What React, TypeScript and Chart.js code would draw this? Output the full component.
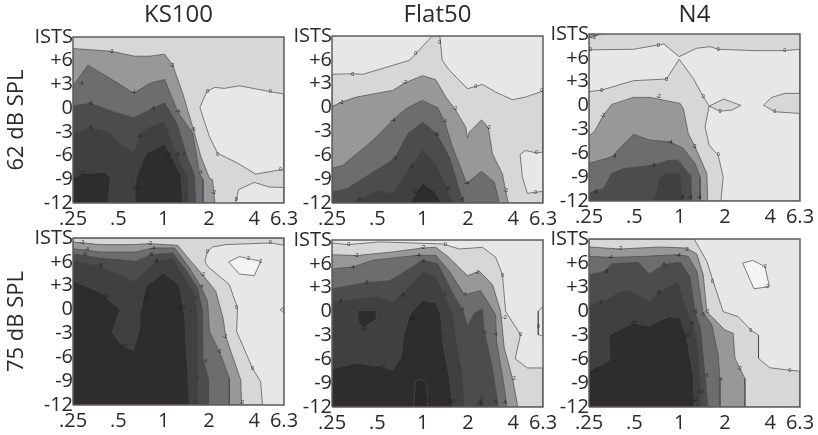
import React, { useEffect, useRef } from "react";
import { Chart, registerables } from "chart.js";

Chart.register(...registerables);

type Pt = [number, number];
type Lab = [number, number, string];

// x = octaves above .25 kHz, y = dB re ISTS level
const xTickValues = [0, 1, 2, 3, 4, 4.655];
const xTickLabels = [".25", ".5", "1", "2", "4", "6.3"];
const X_MAX = 4.655;
const Y_MIN = -12;
const Y_MAX = 9;

const SHADES: Record<string, string> = {
  "2": "#f3f4f5",
  "0": "#e6e7e8",
  "-0": "#d6d7d9",
  "-2": "#97989a",
  "-4": "#6c6d6f",
  "-6": "#4c4c4e",
  "-8": "#403f41",
  "-10": "#2e2c2d",
  "-12": "#2a2829",
};

const fullPlot: Pt[] = [[0, -12], [0, 9], [4.655, 9], [4.655, -12]];

// ---- KS100, 62 dB
const ks62Z1: Pt[] = [[2.95, 2.08], [3.12, 2.62], [3.34, 2.5], [3.67, 2.83], [4.36, 2.08], [4.655, 1.78], [4.655, -7.8], [4.58, -7.8], [4.03, -8.34], [3.63, -6.96], [3.19, -5.7], [3.01, -3.6], [2.9, -1.71], [2.8, 0.1]];
const ks62Z2: Pt[] = [[3.59, -12], [3.65, -10.32], [4, -9.39], [4.33, -9.98], [4.655, -10.03], [4.655, -12]];
const ks62M2: Pt[] = [[0, 7.54], [0.84, 7.2], [1.36, 6.57], [1.69, 6.57], [2.02, 6.82], [2.2, 5.44], [2.42, 1.87], [2.66, -2.76], [2.82, -6.12], [3.01, -8.85], [3.08, -9.06], [3.13, -12], [0, -12]];
const ks62M4: Pt[] = [[0, 2.79], [0.33, 5.44], [0.88, 3.55], [1.34, 1.87], [1.69, 3.13], [2.02, 3.63], [2.31, -0.45], [2.64, -3.18], [2.79, -8.22], [2.87, -9.06], [2.87, -12], [0, -12]];
const ks62M6: Pt[] = [[0, 0.31], [0.4, 0.6], [0.88, -0.45], [1.34, -1.2], [1.76, -0.03], [2.02, 0.69], [2.31, -2.13], [2.49, -5.7], [2.68, -8.43], [2.71, -12], [0, -12]];
const ks62M8: Pt[] = [[0, -3.18], [0.38, -2.42], [0.77, -2.97], [1.03, -4.44], [1.34, -5.49], [1.47, -3.6], [1.61, -2.55], [2.02, -1.71], [2.27, -5.7], [2.53, -8.64], [2.55, -12], [0, -12]];
const ks62M10a: Pt[] = [[0, -8.76], [0.22, -8.3], [0.7, -8.09], [0.83, -8.85], [0.77, -12], [0, -12]];
const ks62M10b: Pt[] = [[1.36, -12], [1.39, -8.85], [1.61, -5.7], [2.02, -4.52], [2.38, -8.43], [2.42, -12]];
const ks62Labels: Lab[] = [[0.84, 7.2, "-2"], [2.18, 5.44, "-2"], [0.18, 3.1, "-4"], [1.33, 2, "-4"], [2.31, -0.45, "-4"], [0.38, 0.6, "-6"], [1.76, 0, "-6"], [2.65, -2.7, "-6"], [0.38, -2.4, "-8"], [1.47, -3.6, "-8"], [2.44, -5.7, "-8"], [2.8, -8.2, "-4"], [0.2, -8.3, "-10"], [1.39, -10.2, "-10"], [2.08, -5.8, "-10"], [2.29, -5.8, "-8"], [3.1, -10.7, "-2"], [2.97, 2.1, "0"], [4.35, 2.1, "0"], [3.19, -5.8, "0"], [4.58, -7.8, "0"], [3.6, -11.5, "0"]];

// ---- Flat50, 62 dB
const fl62Z: Pt[] = [[0, 4.18], [0.46, 4.26], [0.68, 4.18], [1.71, 5.94], [1.85, 6.78], [2.21, 9], [2.38, 9], [2.43, 5.94], [2.59, 4.68], [2.99, 2.37], [3.17, 2.66], [3.32, 2.92], [3.61, 1.95], [3.98, 0.98], [4.27, 1.32], [4.655, 2.08], [4.655, -12], [0, -12]];
const fl62Isl: Pt[] = [[4.655, -5.61], [4.51, -5.7], [4.27, -5.4], [4.15, -5.9], [4.2, -8.76], [4.31, -10.78], [4.49, -10.66], [4.655, -10.53]];
const fl62M2: Pt[] = [[0, 0.14], [0.21, 0.69], [0.54, 1.32], [1.34, 2.16], [1.6, 3.08], [2, 4.01], [2.29, 3.5], [2.51, 1.32], [2.71, -0.15], [2.95, -2.46], [2.99, -3.8], [3.03, -3.09], [3.3, -1.54], [3.45, -2.55], [3.54, -5.82], [3.76, -8.34], [3.83, -10.45], [3.89, -12], [0, -12]];
const fl62M4: Pt[] = [[0, -7.63], [0.23, -7.3], [0.9, -4.14], [1.34, -1.62], [1.63, -0.15], [1.99, 0.9], [2.33, -0.03], [2.48, -1.71], [2.66, -4.98], [2.97, -9.52], [3.3, -8.01], [3.58, -9.39], [3.69, -12], [0, -12]];
const fl62M6: Pt[] = [[0, -10.57], [0.32, -10.24], [0.9, -8.13], [1.38, -6.45], [1.67, -3.3], [2, -1.83], [2.31, -3.3], [2.59, -6.24], [2.84, -10.87], [2.9, -12], [0, -12]];
const fl62M8: Pt[] = [[0.43, -12], [0.61, -11.5], [1.01, -10.36], [1.34, -10.78], [1.74, -7.29], [2, -5.28], [2.29, -7.08], [2.55, -10.24], [2.68, -12]];
const fl62M10: Pt[] = [[1.71, -12], [2, -9.48], [2.26, -10.53], [2.42, -12]];
const fl62Labels: Lab[] = [[0.46, 4.2, "0"], [1.85, 6.8, "0"], [2.38, 8.2, "0"], [3.17, 2.6, "0"], [4.63, 2.1, "0"], [4.51, -5.7, "0"], [4.49, -10.7, "0"], [0.2, 0.7, "-2"], [1.6, 3.1, "-2"], [2.71, -0.1, "-2"], [3.45, -2.5, "-2"], [3.83, -10.4, "-2"], [1.34, -1.6, "-4"], [2.48, -1.7, "-4"], [1.38, -6.4, "-6"], [0.6, -11.5, "-6"], [2.31, -3.4, "-6"], [1.74, -7.4, "-8"], [2.55, -10.2, "-8"], [2.97, -9.5, "-4"], [2.87, -11.5, "-6"], [1.85, -10.5, "-10"]];

// ---- N4, 62 dB
const n62Z: Pt[] = [[0, 7], [0.98, 7.08], [1.53, 7.62], [1.65, 7.75], [1.99, 6.15], [2.37, 7.2], [2.67, 7.41], [2.85, 7.08], [3.63, 6.91], [4.32, 6.91], [4.655, 7.08], [4.655, -12], [0, -12]];
const n62Low: Pt[] = [[0, 1.74], [0.28, 1.95], [0.98, 3.13], [1.71, 3.34], [1.99, 5.82], [2.3, 3.42], [2.52, 1.11], [2.65, -0.07], [2.56, -2.67], [2.65, -4.98], [2.85, -6.24], [2.96, -8.97], [2.91, -12], [0, -12]];
const n62IslA: Pt[] = [[2.65, -0.07], [2.97, 0.82], [3.35, 0.02], [3.15, -0.57], [2.89, -0.7]];
const n62IslB: Pt[] = [[4.655, 1.53], [4.32, 1.53], [4.03, 1.03], [3.85, 0.06], [4.1, -0.78], [4.655, -0.99]];
const n62Top: Pt[] = [[0, 9], [0.28, 9], [0, 8.5]];
const n62M2: Pt[] = [[0, -3.85], [0.13, -3.18], [0.32, -1.2], [0.5, 0.14], [0.98, 1.03], [1.35, 1.03], [2.01, 0.27], [2.08, -0.36], [2.19, -3.51], [2.34, -5.19], [2.6, -8.55], [2.62, -12], [0, -12]];
const n62M4: Pt[] = [[0, -7.29], [0.5, -6.45], [0.98, -3.6], [1.35, -4.35], [1.79, -4.56], [2.08, -5.4], [2.34, -7.29], [2.45, -8.97], [2.45, -12], [0, -12]];
const n62M6: Pt[] = [[0, -10.99], [0.32, -10.45], [0.5, -8.55], [0.76, -7.92], [1.42, -7.5], [1.75, -6.87], [1.97, -6.87], [2.23, -8.76], [2.25, -12], [0, -12]];
const n62M8: Pt[] = [[1.42, -12], [1.57, -8.97], [1.68, -8.55], [2.01, -8.55], [2.07, -12]];
const n62Labels: Lab[] = [[0.03, 7, "0"], [1.53, 7.6, "0"], [2.85, 7.1, "0"], [4.32, 6.9, "0"], [0.28, 1.9, "0"], [1.71, 3.3, "0"], [2.52, 1.1, "0"], [2.89, -0.7, "0"], [4.1, -0.8, "0"], [2.85, -6.2, "0"], [1.53, 1.1, "-2"], [0.3, -1.2, "-2"], [2.32, -5.2, "-2"], [0.55, -6.4, "-4"], [1.79, -4.6, "-4"], [0.14, -10.8, "-6"], [1.42, -7.5, "-6"], [2.05, -11.5, "-8"], [2.23, -11.6, "-6"], [2.43, -11.5, "-4"], [0.1, 8.6, "-2"]];

// ---- KS100, 75 dB
const ks75Z: Pt[] = [[0, 9], [4.655, 9], [4.655, 8.08], [4.36, 8.38], [3.37, 8.17], [3.08, 7.87], [2.97, 7.33], [2.91, 6.07], [2.97, 5.44], [3.23, 4.18], [3.45, 3.13], [3.63, 0.18], [3.61, -2.76], [3.96, -7.38], [4.14, -9.06], [4.18, -12], [0, -12]];
const ks75Isl: Pt[] = [[4.655, 0.39], [4.57, -0.03], [4.655, -0.45]];
const ks75Peak: Pt[] = [[3.43, 5.98], [3.67, 6.66], [4.14, 6.07], [4, 4.26], [3.67, 4.47]];
const ks75M2: Pt[] = [[0, 8.5], [0.59, 8.17], [1.32, 8.17], [1.69, 8.29], [2.31, 8.08], [2.57, 6.28], [2.86, 4.39], [3.15, 2.29], [3.31, -1.08], [3.37, -3.39], [3.7, -8.85], [3.72, -12], [0, -12]];
const ks75M4: Pt[] = [[0, 7.66], [0.59, 7.24], [1.39, 7.24], [1.76, 7.75], [2.24, 7.75], [2.57, 5.23], [2.82, 2.92], [2.97, 1.03], [3.01, -2.76], [3.23, -5.28], [3.45, -8.64], [3.45, -12], [0, -12]];
const ks75M6: Pt[] = [[0, 7], [0.59, 6.49], [1.39, 6.07], [1.72, 6.91], [2.2, 7.12], [2.46, 5.23], [2.75, 2.71], [2.86, -0.24], [2.87, -6.33], [2.99, -8.64], [2.99, -12], [0, -12]];
const ks75M8: Pt[] = [[0, 6.19], [0.62, 5.44], [1.36, 3.55], [1.83, 6.07], [2.2, 6.49], [2.38, 4.81], [2.68, 2.08], [2.76, -1.08], [2.76, -12], [0, -12]];
const ks75M10: Pt[] = [[0, 3.67], [0.62, 2.08], [1.04, -0.03], [0.86, -2.84], [1.1, -4.65], [1.33, -5.07], [1.47, -2.34], [1.47, -0.66], [1.61, 2.92], [1.99, 4.6], [2.35, 3.13], [2.46, -0.66], [2.57, -12], [0, -12]];
const ks75Labels: Lab[] = [[0.2, 8.4, "-2"], [1.69, 8.3, "-2"], [0.3, 7.5, "-4"], [1.76, 7.7, "-4"], [0.25, 6.9, "-6"], [1.72, 6.9, "-6"], [0.6, 5.5, "-8"], [1.83, 6, "-8"], [2.97, 7.3, "0"], [4.35, 8.4, "0"], [2.86, 4.4, "-2"], [2.82, 2.9, "-4"], [2.7, 1.5, "-6"], [0.7, 1.7, "-10"], [1.6, 1.5, "-10"], [2.38, 0.2, "-10"], [2.58, -0.3, "-8"], [3.22, -5.3, "-6"], [3.35, -3.4, "-2"], [3.61, 0.2, "0"], [3.96, -7.4, "0"], [3.72, -11.7, "-2"], [2.91, -6.5, "-6"], [1.1, -4.7, "-10"], [2.47, -8, "-10"], [2.74, -8.6, "-8"], [3.87, 6.4, "2"], [4.14, 6.1, "2"]];

// ---- Flat50, 75 dB
const fl75Z: Pt[] = [[0, 8.63], [0.35, 8.42], [1.05, 8.76], [2.44, 8.5], [2.81, 7.87], [3.32, 8.08], [3.61, 6.83], [3.76, 4.65], [3.83, 0.03], [4.16, -2.9], [4.04, -5.92], [4.31, -7.09], [4.655, -7.09], [4.655, -12], [0, -12]];
const fl75Isl: Pt[] = [[4.655, 0.66], [4.55, 0.03], [4.55, -2.9], [4.655, -3.1]];
const fl75M2: Pt[] = [[0, 7.16], [0.54, 7.04], [1.34, 7.5], [2, 8], [2.29, 8.08], [2.55, 6.95], [2.99, 4.52], [3.25, 5.07], [3.54, 3.39], [3.72, 0.03], [3.8, -4.58], [3.98, -8.35], [4.1, -12], [0, -12]];
const fl75M4: Pt[] = [[0, 5.36], [0.46, 5.61], [0.9, 6.45], [1.89, 7.08], [2.29, 7.08], [2.59, 5.07], [2.92, 2.13], [3.28, 2.63], [3.61, -0.39], [3.63, -3.74], [3.78, -8.77], [3.86, -12], [0, -12]];
const fl75M6: Pt[] = [[0, 2.88], [0.72, 3.6], [1.27, 3.89], [1.56, 4.86], [2, 6.45], [2.33, 6.03], [2.51, 4.02], [2.7, 1.92], [2.88, 0.24], [2.99, -1.85], [3.14, -0.18], [3.32, 0.33], [3.36, -2.48], [3.54, -7.09], [3.65, -11.29], [3.65, -12], [0, -12]];
const fl75M8: Pt[] = [[0, 1.21], [0.98, 1.92], [1.34, 1.21], [1.63, 2.76], [2, 4.98], [2.29, 4.44], [2.48, 2.13], [2.68, -0.39], [2.73, -3.32], [2.88, -7.51], [2.92, -12], [0, -12]];
const fl75M8b: Pt[] = [[3.14, -12], [3.32, -10.32], [3.34, -12]];
const fl75M10: Pt[] = [[0, -7.22], [0.54, -6.47], [1.05, -6.88], [1.34, -7.39], [1.52, -5.84], [1.58, -2.9], [1.74, -0.18], [2, 1.42], [2.29, 1.08], [2.4, -0.39], [2.44, -3.74], [2.59, -8.35], [2.66, -12], [0, -12]];
const fl75M10b: Pt[] = [[0.55, 0.12], [0.99, 0.12], [0.97, -1.01], [0.68, -2.06], [0.59, -1.43]];
const fl75M12: Pt[] = [[1.8, -12], [1.84, -8.77], [1.97, -8.48], [2.09, -8.98], [2.11, -12]];
const fl75Labels: Lab[] = [[0.37, 8.4, "0"], [2.5, 8.4, "0"], [3.76, 4.6, "0"], [4.16, -2.9, "0"], [4.55, -1.9, "0"], [0.53, 7, "-2"], [2, 8, "-2"], [3.19, 4.9, "-2"], [3.8, -0.8, "-2"], [4, -8.4, "-2"], [0.45, 5.6, "-4"], [1.9, 7.1, "-4"], [2.92, 2.2, "-4"], [3.6, -2.9, "-4"], [3.8, -11.4, "-4"], [0.75, 3.6, "-6"], [2, 6.3, "-6"], [2.87, 0.2, "-6"], [3.36, -2.6, "-6"], [3.6, -11.3, "-6"], [0.18, 1.3, "-8"], [1.55, 2, "-8"], [2.48, 2.1, "-8"], [2.77, -6.9, "-8"], [3.28, -11.5, "-8"], [0.68, -2.1, "-10"], [1.08, -7, "-10"], [1.73, -0.9, "-10"], [2.4, -3, "-10"], [2.62, -11.3, "-10"], [2.08, -11.2, "-12"]];

// ---- N4, 75 dB
const n75Z: Pt[] = [[0, 9], [2.32, 9], [2.6, 6.2], [2.74, 3.69], [2.96, -0.08], [3.29, -0.7], [3.57, -2.38], [3.74, -3], [3.74, -5.93], [3.99, -7.1], [4.43, -7.4], [4.655, -7.52], [4.655, -12], [0, -12]];
const n75Peak: Pt[] = [[3.39, 5.99], [3.61, 6.33], [3.88, 5.57], [3.98, 3.06], [3.64, 2.77]];
const n75M2: Pt[] = [[0, 8], [0.68, 7.75], [1.57, 8], [2.15, 7.87], [2.38, 7.12], [2.52, 4.53], [2.6, -0.08], [3, -2.38], [3.18, -2.79], [3.22, -5.93], [3.44, -8.44], [3.44, -12], [0, -12]];
const n75M4: Pt[] = [[0, 6.83], [0.5, 6.7], [1.2, 6.83], [1.97, 7.04], [2.19, 6.83], [2.38, 4.95], [2.51, -0.08], [2.71, -1.75], [2.85, -5.51], [2.89, -8.65], [2.89, -12], [0, -12]];
const n75M6: Pt[] = [[0, 4.53], [0.35, 4.95], [0.5, 5.91], [1.09, 6.08], [1.33, 4.61], [1.64, 5.78], [2.01, 6.12], [2.23, 4.32], [2.34, -0.08], [2.46, -2.17], [2.56, -8.03], [2.62, -12], [0, -12]];
const n75M8: Pt[] = [[0, 0.68], [0.28, 1.1], [0.68, 2.43], [0.94, 2.52], [1.33, 1.18], [1.53, 2.35], [1.97, 3.69], [2.12, 0.76], [2.26, -1.33], [2.38, -3.42], [2.45, -8.03], [2.47, -12], [0, -12]];
const n75M10: Pt[] = [[0, -7.48], [0.46, -6.14], [0.44, -3], [0.98, -1.54], [1.33, -1.87], [1.75, -0.7], [2.01, -0.83], [2.15, -3.21], [2.3, -8.03], [2.32, -12], [0, -12]];
const n75Labels: Lab[] = [[0.68, 7.8, "-2"], [2.15, 7.7, "-2"], [2.6, -0.1, "-2"], [3.32, -7.2, "-2"], [0.47, 6.7, "-4"], [1.97, 7, "-4"], [2.89, -8.6, "-4"], [0.37, 4.9, "-6"], [1.64, 5.8, "-6"], [2.34, -0.1, "-6"], [2.5, -0.4, "-6"], [0.25, 1.1, "-8"], [1.53, 2.3, "-8"], [2.26, -1.5, "-8"], [2.58, -8, "-8"], [0.98, -1.6, "-10"], [0.15, -7.4, "-10"], [2.15, -3.1, "-10"], [2.45, -10, "-10"], [2.72, 3.7, "0"], [3.57, -2.4, "0"], [4.43, -7.4, "0"], [3.87, 5.6, "-2"], [3.92, 3.1, "-2"], [2.32, -11, "-12"]];

type Layer = [string, Pt[]];
interface Panel {
  title?: string;
  yTitle?: string;
  canvasLeft: number;
  canvasTop: number;
  areaTop: number;
  plotH: number;
  base: string;
  layers: Layer[];
  labels: Lab[];
}

const panels: Panel[] = [
  {
    title: "KS100", yTitle: "62 dB SPL", canvasLeft: 0, canvasTop: 0, areaTop: 37, plotH: 166, base: "-0",
    layers: [["0", ks62Z1], ["0", ks62Z2], ["-2", ks62M2], ["-4", ks62M4], ["-6", ks62M6], ["-8", ks62M8], ["-10", ks62M10a], ["-10", ks62M10b]],
    labels: ks62Labels,
  },
  {
    title: "Flat50", canvasLeft: 259, canvasTop: 0, areaTop: 36, plotH: 167, base: "0",
    layers: [["-0", fl62Z], ["0", fl62Isl], ["-2", fl62M2], ["-4", fl62M4], ["-6", fl62M6], ["-8", fl62M8], ["-10", fl62M10]],
    labels: fl62Labels,
  },
  {
    title: "N4", canvasLeft: 516, canvasTop: 0, areaTop: 34, plotH: 167, base: "-0",
    layers: [["-2", n62Top], ["0", n62Z], ["-0", n62Low], ["-0", n62IslA], ["-0", n62IslB], ["-2", n62M2], ["-4", n62M4], ["-6", n62M6], ["-8", n62M8]],
    labels: n62Labels,
  },
  {
    yTitle: "75 dB SPL", canvasLeft: 0, canvasTop: 200, areaTop: 38, plotH: 167, base: "0",
    layers: [["-0", ks75Z], ["-0", ks75Isl], ["2", ks75Peak], ["-2", ks75M2], ["-4", ks75M4], ["-6", ks75M6], ["-8", ks75M8], ["-10", ks75M10]],
    labels: ks75Labels,
  },
  {
    canvasLeft: 259, canvasTop: 200, areaTop: 40, plotH: 167, base: "0",
    layers: [["-0", fl75Z], ["0", fl75Isl], ["-2", fl75M2], ["-4", fl75M4], ["-6", fl75M6], ["-8", fl75M8], ["-8", fl75M8b], ["-10", fl75M10], ["-10", fl75M10b], ["-12", fl75M12]],
    labels: fl75Labels,
  },
  {
    canvasLeft: 516, canvasTop: 200, areaTop: 39, plotH: 168, base: "0",
    layers: [["-0", n75Z], ["2", n75Peak], ["-2", n75M2], ["-4", n75M4], ["-6", n75M6], ["-8", n75M8], ["-10", n75M10]],
    labels: n75Labels,
  },
];

const FONT = '"Open Sans", "Noto Sans", sans-serif';
const TEXT = "#2b2a2b";
const AXIS_W = 73;
const AXIS_H = 32;
const RIGHT = 19;
const PLOT_W = 211;

const toXY = (pts: Pt[]) => {
  const d = pts.map(([x, y]) => ({ x, y }));
  d.push({ ...d[0] });
  return d;
};

const region = (shade: string, pts: Pt[], order: number, stroke = true) => ({
  data: toXY(pts),
  showLine: true,
  fill: "shape",
  backgroundColor: SHADES[shade],
  borderColor: stroke ? "#4a4a4c" : "transparent",
  borderWidth: stroke ? 0.7 : 0,
  pointRadius: 0,
  tension: 0,
  order,
});

function PanelChart({ p }: { p: Panel }) {
  const ref = useRef<HTMLCanvasElement>(null);
  useEffect(() => {
    const labelPlugin = {
      id: "contourLabels",
      afterDatasetsDraw(chart: any) {
        const { ctx, scales } = chart;
        ctx.save();
        ctx.font = '5.5px "Liberation Sans", sans-serif';
        ctx.textAlign = "center";
        ctx.textBaseline = "middle";
        for (const [x, y, t] of p.labels) {
          const px = scales.x.getPixelForValue(x);
          const py = scales.y.getPixelForValue(y);
          ctx.fillStyle = y < -9 || x < 2.4 ? "#1f1f1f" : "#333333";
          ctx.fillText(t, px, py);
        }
        ctx.restore();
      },
    };
    const n = p.layers.length;
    const datasets: any[] = [
      region(p.base, fullPlot, n + 1, false),
      ...p.layers.map(([s, pts], i) => region(s, pts, n - i)),
      {
        data: toXY(fullPlot),
        showLine: true,
        fill: false,
        borderColor: "#5c5d5f",
        borderWidth: 1.5,
        pointRadius: 0,
        order: -1,
        clip: false,
      },
    ];
    const scales: any = {
      x: {
        type: "linear",
        min: 0,
        max: X_MAX,
        grid: { display: false, drawTicks: false },
        border: { display: false },
        afterBuildTicks: (s: any) => {
          s.ticks = xTickValues.map((value) => ({ value }));
        },
        afterFit: (s: any) => {
          s.height = AXIS_H;
          s.paddingLeft = 0;
          s.paddingRight = 0;
        },
        ticks: {
          autoSkip: false,
          maxRotation: 0,
          minRotation: 0,
          padding: 4,
          color: TEXT,
          font: { family: FONT, size: 20 },
          callback: (v: any) => xTickLabels[xTickValues.indexOf(v)] ?? "",
        },
      },
      y: {
        type: "linear",
        min: Y_MIN,
        max: Y_MAX,
        grid: { display: false, drawTicks: false },
        border: { display: false },
        afterFit: (s: any) => {
          s.width = AXIS_W;
          s.paddingTop = 0;
          s.paddingBottom = 0;
        },
        title: p.yTitle
          ? {
              display: true,
              text: p.yTitle,
              color: TEXT,
              padding: { top: 4, bottom: 0 },
              font: { family: FONT, size: 22, weight: "normal" },
            }
          : { display: false },
        ticks: {
          stepSize: 3,
          autoSkip: false,
          padding: 0,
          color: TEXT,
          font: { family: FONT, size: 20 },
          callback: (v: any) => (v === Y_MAX ? "ISTS" : v > 0 ? `+${v}` : `${v}`),
        },
      },
    };
    if (p.title) {
      // the panel heading is the title of a top axis, so it centres on the plot
      scales.xTop = {
        type: "linear",
        axis: "x",
        position: "top",
        min: 0,
        max: X_MAX,
        grid: { display: false, drawTicks: false },
        border: { display: false },
        ticks: { display: false },
        afterFit: (s: any) => {
          s.height = p.areaTop - 1;
          s.paddingLeft = 0;
          s.paddingRight = 0;
        },
        title: {
          display: true,
          text: p.title,
          color: TEXT,
          padding: 0,
          font: { family: FONT, size: 24, weight: "normal", lineHeight: 1.15 },
        },
      };
    }
    const chart = new Chart(ref.current!, {
      type: "scatter",
      data: { datasets },
      plugins: [labelPlugin],
      options: {
        animation: false,
        responsive: false,
        events: [],
        layout: {
          padding: { top: p.title ? 1 : p.areaTop, left: 0, right: RIGHT, bottom: 0 },
        },
        plugins: {
          legend: { display: false },
          tooltip: { enabled: false },
          title: { display: false },
        },
        scales,
      } as any,
    });
    return () => chart.destroy();
  }, [p]);
  return (
    <canvas
      ref={ref}
      width={AXIS_W + PLOT_W + RIGHT}
      height={p.areaTop + p.plotH + AXIS_H}
      style={{ position: "absolute", left: p.canvasLeft, top: p.canvasTop }}
    />
  );
}

export default function App() {
  return (
    <div style={{ position: "fixed", left: 0, top: 0, width: 818, height: 435, overflow: "hidden", background: "#fff" }}>
      {panels.map((p, i) => (
        <PanelChart key={i} p={p} />
      ))}
    </div>
  );
}
